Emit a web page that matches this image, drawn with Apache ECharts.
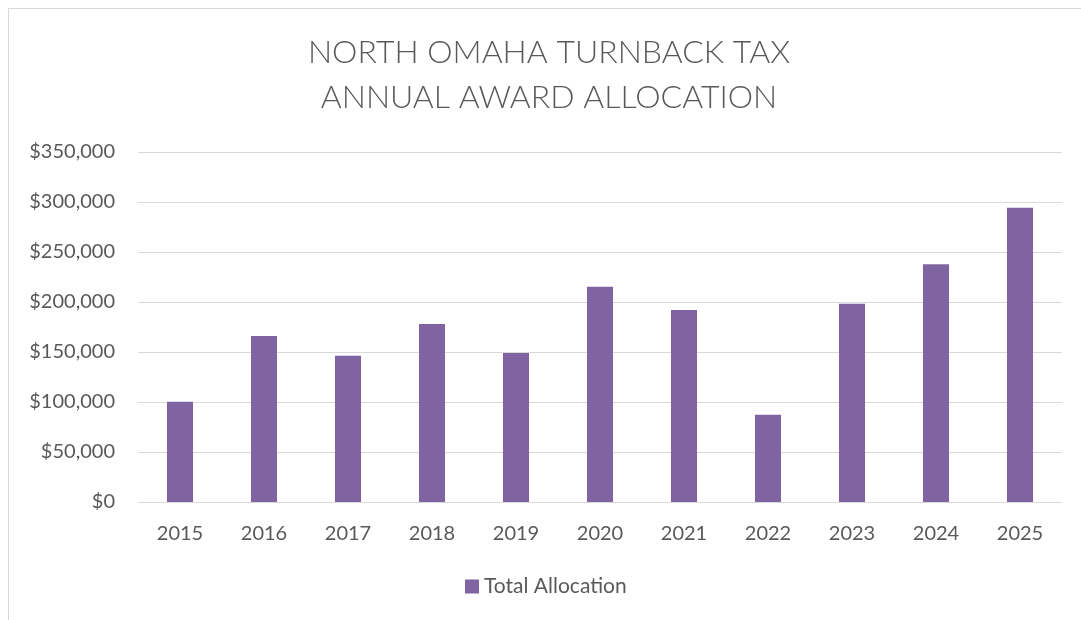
<!DOCTYPE html>
<html>
<head>
<meta charset="utf-8">
<script src="https://cdn.jsdelivr.net/npm/echarts@6/dist/echarts.min.js"></script>
<style>
html,body{margin:0;padding:0;background:#fff;}
#frame{position:absolute;left:8px;top:8px;width:1090px;height:620px;border:1px solid #d9d9d9;box-sizing:border-box;}
#chart{position:absolute;left:0;top:0;width:1081px;height:620px;}
</style>
</head>
<body>
<div id="frame"></div>
<div id="chart"></div>
<script>
const categories = ['2015','2016','2017','2018','2019','2020','2021','2022','2023','2024','2025'];
const totalAllocation = [100300, 166000, 146300, 178000, 149000, 215300, 192000, 87300, 198300, 237700, 294300];
const yTicks = { min: 0, max: 350000, interval: 50000 };
const titleLines = ['NORTH OMAHA TURNBACK TAX', 'ANNUAL AWARD ALLOCATION'];
const seriesName = 'Total Allocation';

const font = 'Lato, "Open Sans", sans-serif';
const chart = echarts.init(document.getElementById('chart'), null, {renderer: 'canvas'});
chart.setOption({
  animation: false,
  backgroundColor: 'transparent',
  graphic: titleLines.map((t, i) => ({
    type: 'text',
    x: 549,
    y: 53 + i * 45,
    style: {
      text: t,
      align: 'center',
      verticalAlign: 'middle',
      font: '300 32px ' + font,
      fill: '#595959'
    }
  })),
  legend: {
    top: 576,
    left: 465,
    padding: 0,
    itemWidth: 14,
    itemHeight: 14,
    icon: 'rect',
    textStyle: { fontFamily: font, fontSize: 21, color: '#595959' },
    data: [seriesName]
  },
  grid: { left: 138, right: 19, top: 152, bottom: 118, containLabel: false },
  xAxis: {
    type: 'category',
    data: categories,
    axisLine: { lineStyle: { color: '#d9d9d9', width: 1 } },
    axisTick: { show: false },
    axisLabel: { fontFamily: font, fontSize: 20, color: '#595959', margin: 22 }
  },
  yAxis: {
    type: 'value',
    min: yTicks.min, max: yTicks.max, interval: yTicks.interval,
    splitLine: { lineStyle: { color: '#d9d9d9', width: 1 } },
    axisLine: { show: false },
    axisTick: { show: false },
    axisLabel: {
      fontFamily: font, fontSize: 20, color: '#595959', margin: 23,
      formatter: v => '$' + v.toLocaleString('en-US')
    }
  },
  series: [{
    name: seriesName,
    type: 'bar',
    data: totalAllocation,
    barCategoryGap: '69%',
    itemStyle: { color: '#8064A2' }
  }]
});
</script>
</body>
</html>
